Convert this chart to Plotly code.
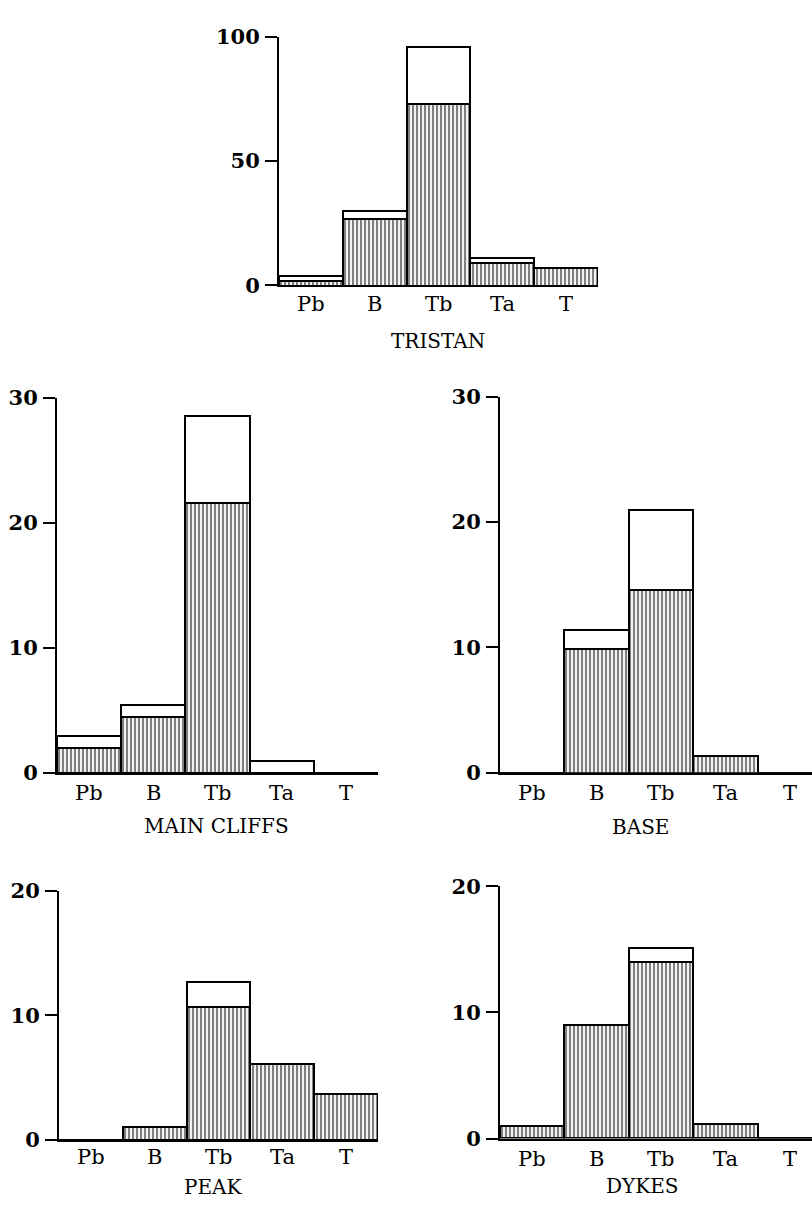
import plotly.graph_objects as go

categories = ["Pb", "B", "Tb", "Ta", "T"]

tristan_hatched = [2, 27, 73, 9, 7]
tristan_open = [2, 3, 23, 2, 0]

cliffs_hatched = [2, 4.5, 21.6, 0, 0]
cliffs_open = [1, 1, 7, 1, 0]

base_hatched = [0, 9.9, 14.6, 1.4, 0]
base_open = [0, 1.5, 6.4, 0, 0]

peak_hatched = [0, 1.1, 10.7, 6.1, 3.7]
peak_open = [0, 0, 2, 0, 0]

dykes_hatched = [1, 9, 14, 1.1, 0]
dykes_open = [0, 0, 1.1, 0, 0]

W, H = 812, 1212
SERIF = "DejaVu Serif"


def fx(p):
    return p / W


def fy(p):
    return 1 - p / H


panels = [
    # name, hatched, open, x px domain, y px (bottom, top), ymax, ticks, xrange, title pos, label y
    ("TRISTAN", tristan_hatched, tristan_open, (279, 598), (278, 24), 100, [0, 50, 100], [-0.5, 4.5], (438, 335), 297),
    ("MAIN CLIFFS", cliffs_hatched, cliffs_open, (57, 378), (776, 392.7), 30, [0, 10, 20, 30], [-0.5, 4.5], (216, 830), 796),
    ("BASE", base_hatched, base_open, (500, 812), (775.7, 391.7), 30, [0, 10, 20, 30], [-0.5, 4.345], (640, 831), 796),
    ("PEAK", peak_hatched, peak_open, (59, 378), (1150.7, 896), 20, [0, 10, 20], [-0.5, 4.5], (213, 1199), 1168),
    ("DYKES", dykes_hatched, dykes_open, (500, 812), (1149.3, 891.7), 20, [0, 10, 20], [-0.5, 4.345], (642, 1198), 1170),
]

fig = go.Figure()
layout = dict(
    width=W, height=H, margin=dict(l=0, r=0, t=0, b=0),
    paper_bgcolor="white", plot_bgcolor="white",
    barmode="stack", bargap=0, showlegend=False,
    annotations=[],
)

for i, (name, hat, opn, xd, yd, ymax, yt, xr, tpos, ly) in enumerate(panels):
    n = "" if i == 0 else str(i + 1)
    xa, ya = "x" + n, "y" + n
    xs = list(range(len(categories)))
    fig.add_trace(go.Bar(
        x=xs, y=hat, xaxis=xa, yaxis=ya,
        marker=dict(color="white", line=dict(color="black", width=2),
                    pattern=dict(shape="|", fgcolor="black", bgcolor="white",
                                 size=4, solidity=0.55)),
        width=1, hoverinfo="skip"))
    fig.add_trace(go.Bar(
        x=xs, y=opn, xaxis=xa, yaxis=ya,
        marker=dict(color="white", line=dict(color="black", width=2)),
        width=1, hoverinfo="skip"))
    layout["xaxis" + n] = dict(
        domain=[fx(xd[0]), fx(xd[1])], range=xr, anchor=ya,
        showticklabels=False,
        showline=True, linecolor="black", linewidth=2, ticks="",
        showgrid=False, zeroline=False,
    )
    layout["yaxis" + n] = dict(
        domain=[fy(yd[0]), fy(yd[1])], range=[0, ymax], anchor=xa,
        tickmode="array", tickvals=yt,
        showline=True, linecolor="black", linewidth=2,
        ticks="outside", ticklen=12, tickwidth=2, tickcolor="black",
        showgrid=False, zeroline=False,
        tickfont=dict(family=SERIF, size=21, color="black", weight="bold"),
        ticklabelstandoff=1,
    )
    for xi, cat in zip(xs, categories):
        layout["annotations"].append(dict(
            text=cat, x=xi, xref=xa, y=fy(ly), yref="paper",
            showarrow=False, xanchor="center", yanchor="middle",
            font=dict(family=SERIF, size=21, color="black")))
    layout["annotations"].append(dict(
        text=name, x=fx(tpos[0]), y=fy(tpos[1]), xref="paper", yref="paper",
        showarrow=False, xanchor="center", yanchor="middle",
        font=dict(family=SERIF, size=20, color="black")))

fig.update_layout(**layout)
fig.write_html("out.html")
